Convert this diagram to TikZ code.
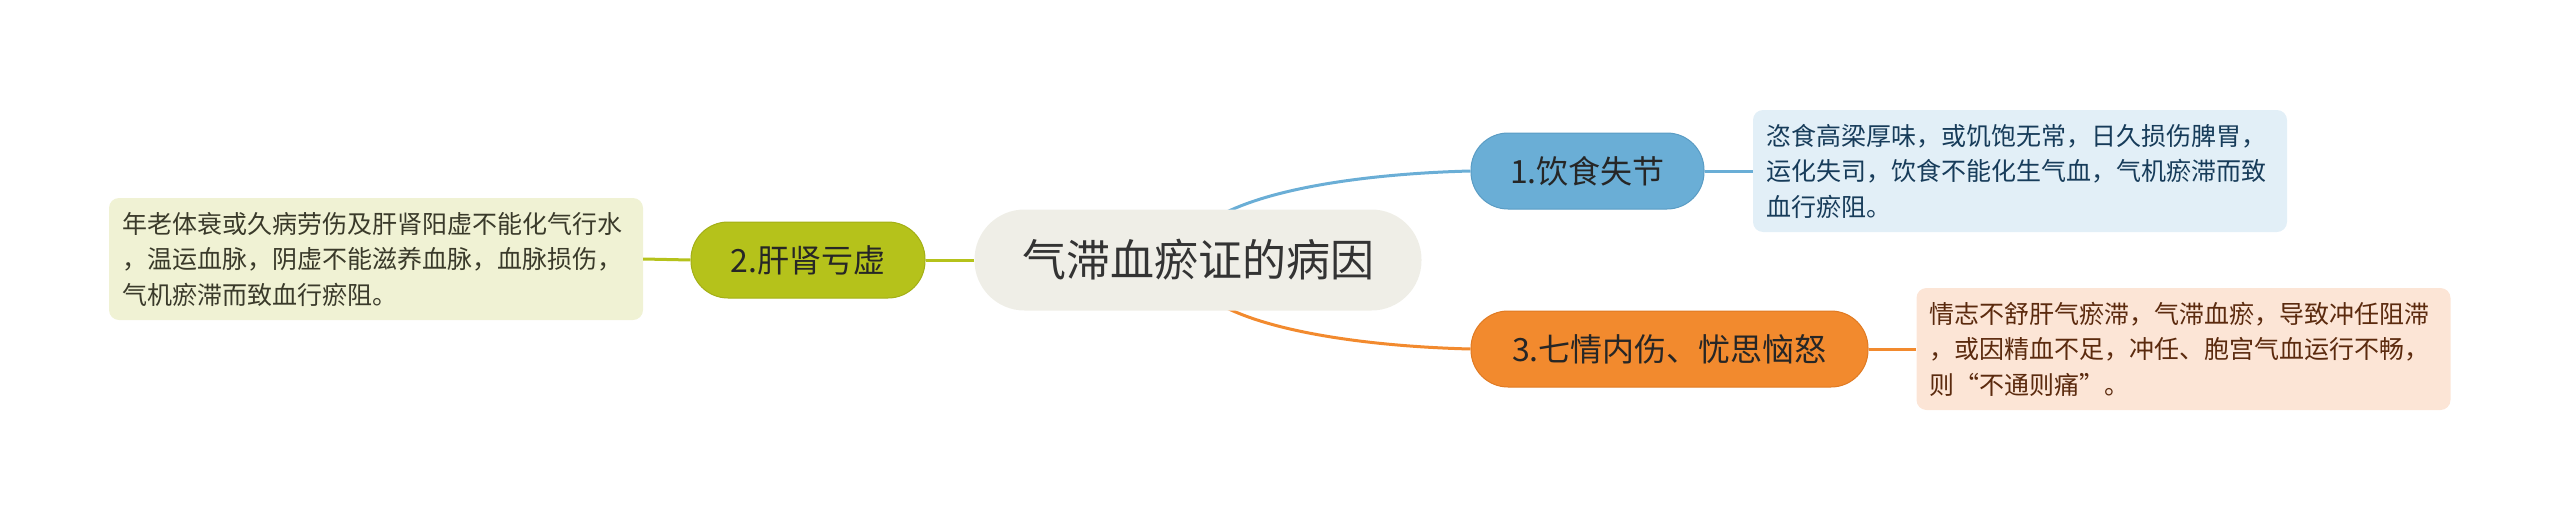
\documentclass[tikz,border=0pt]{standalone}
\usepackage{fontspec}
\newfontfamily\cjk{Noto Sans CJK SC}
\definecolor{rootfill}{HTML}{EFEEE7}
\definecolor{roottext}{HTML}{333333}
\definecolor{bluemain}{HTML}{6AAED6}
\definecolor{blueedge}{HTML}{5A9CC4}
\definecolor{bluebox}{HTML}{E2EFF7}
\definecolor{bluetext}{HTML}{173C5A}
\definecolor{greenmain}{HTML}{B5C21B}
\definecolor{greenedge}{HTML}{A3AF16}
\definecolor{greenbox}{HTML}{F0F2D4}
\definecolor{greentext}{HTML}{3A3A2A}
\definecolor{orangemain}{HTML}{F28A2E}
\definecolor{orangeedge}{HTML}{E07A22}
\definecolor{orangebox}{HTML}{FCE5D6}
\definecolor{orangetext}{HTML}{5B2A0E}
\tikzset{
  rootnode/.style={fill=rootfill, rounded corners=50pt, minimum width=447pt, minimum height=101pt,
    inner sep=0pt, text=roottext, font=\cjk\fontsize{44}{52}\selectfont},
  topic/.style={rounded corners=37pt, minimum height=76pt, inner sep=0pt, line width=1pt,
    text=black!85, font=\cjk\fontsize{32}{38}\selectfont},
  note/.style={rounded corners=10pt, minimum height=122pt, text width=508pt, inner xsep=13pt,
    inner ysep=0pt, align=left, font=\cjk\fontsize{25}{35.5}\selectfont},
  link/.style={line width=3pt}
}
\begin{document}
\begin{tikzpicture}[x=1pt,y=-1pt]
\useasboundingbox (0,0) rectangle (2560,520);
\coordinate (s1) at (1185,250);
\coordinate (s3) at (1185,270);
\node[topic, fill=bluemain, draw=blueedge, minimum width=233pt] (t1) at (1587.5,171) {1.饮食失节};
\node[topic, fill=greenmain, draw=greenedge, minimum width=234pt] (t2) at (808,260) {2.肝肾亏虚};
\node[topic, fill=orangemain, draw=orangeedge, minimum width=397pt] (t3) at (1669.5,349) {3.七情内伤、忧思恼怒};
\node[note, fill=bluebox, text=bluetext] (n1) at (2020,171) {恣食高梁厚味，或饥饱无常，日久损伤脾胃，\\运化失司，饮食不能化生气血，气机瘀滞而致\\血行瘀阻。};
\node[note, fill=greenbox, text=greentext] (n2) at (376,259) {年老体衰或久病劳伤及肝肾阳虚不能化气行水\\，温运血脉，阴虚不能滋养血脉，血脉损伤，\\气机瘀滞而致血行瘀阻。};
\node[note, fill=orangebox, text=orangetext] (n3) at (2183.5,349) {情志不舒肝气瘀滞，气滞血瘀，导致冲任阻滞\\，或因精血不足，冲任、胞宫气血运行不畅，\\则“不通则痛”。};
\draw[link, bluemain] (s1) .. controls (1205,195) and (1350,174) .. (t1.west);
\draw[link, orangemain] (s3) .. controls (1205,325) and (1350,346) .. (t3.west);
\draw[link, bluemain] (t1.east) -- (n1.west);
\draw[link, orangemain] (t3.east) -- (n3.west);
\draw[link, greenmain] (t2.west) -- (n2.east);
\node[rootnode] (root) at (1198,260) {气滞血瘀证的病因};
\draw[link, greenmain] (root.west) -- (t2.east);
\end{tikzpicture}
\end{document}
